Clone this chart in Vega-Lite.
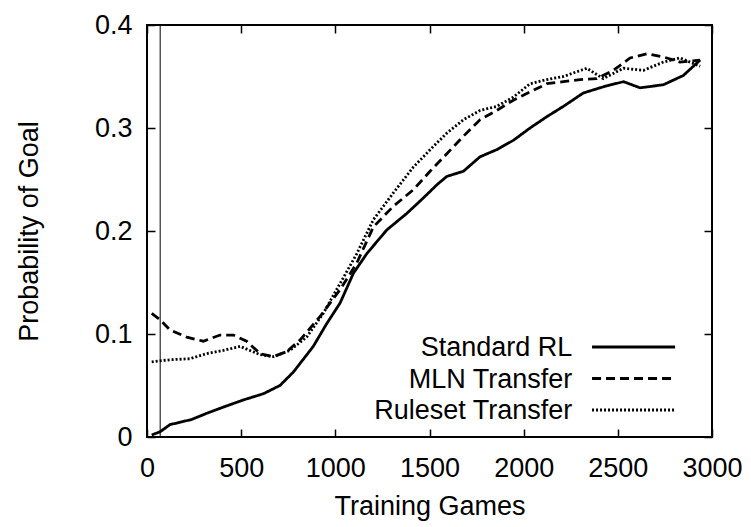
{
  "$schema": "https://vega.github.io/schema/vega-lite/v6.json",
  "autosize": "none",
  "width": 565,
  "height": 412,
  "padding": {"left": 147, "top": 25, "right": 39, "bottom": 90},
  "background": "white",
  "config": {
    "font": "Liberation Sans",
    "view": {"stroke": "black", "strokeWidth": 2},
    "axis": {"grid": false, "domain": false, "ticks": true, "tickColor": "black", "tickWidth": 1.5, "tickSize": 8, "offset": -8,
             "labelFlush": false, "labelOverlap": false, "labelBound": false,
             "labelFont": "Liberation Sans", "labelFontSize": 27, "labelColor": "black",
             "titleFont": "Liberation Sans", "titleFontSize": 27, "titleFontWeight": "normal", "titleColor": "black"}
  },
  "datasets": {
    "curves": [
      {"series": "Standard RL", "games": 25, "p": 0.002},
      {"series": "Standard RL", "games": 69, "p": 0.005},
      {"series": "Standard RL", "games": 122, "p": 0.012},
      {"series": "Standard RL", "games": 237, "p": 0.017},
      {"series": "Standard RL", "games": 317, "p": 0.023},
      {"series": "Standard RL", "games": 405, "p": 0.029},
      {"series": "Standard RL", "games": 512, "p": 0.036},
      {"series": "Standard RL", "games": 618, "p": 0.042},
      {"series": "Standard RL", "games": 706, "p": 0.050},
      {"series": "Standard RL", "games": 777, "p": 0.063},
      {"series": "Standard RL", "games": 883, "p": 0.088},
      {"series": "Standard RL", "games": 954, "p": 0.110},
      {"series": "Standard RL", "games": 1025, "p": 0.130},
      {"series": "Standard RL", "games": 1096, "p": 0.159},
      {"series": "Standard RL", "games": 1167, "p": 0.178},
      {"series": "Standard RL", "games": 1273, "p": 0.201},
      {"series": "Standard RL", "games": 1379, "p": 0.217},
      {"series": "Standard RL", "games": 1467, "p": 0.232},
      {"series": "Standard RL", "games": 1540, "p": 0.245},
      {"series": "Standard RL", "games": 1592, "p": 0.253},
      {"series": "Standard RL", "games": 1680, "p": 0.258},
      {"series": "Standard RL", "games": 1768, "p": 0.272},
      {"series": "Standard RL", "games": 1857, "p": 0.279},
      {"series": "Standard RL", "games": 1945, "p": 0.288},
      {"series": "Standard RL", "games": 2034, "p": 0.300},
      {"series": "Standard RL", "games": 2123, "p": 0.311},
      {"series": "Standard RL", "games": 2211, "p": 0.321},
      {"series": "Standard RL", "games": 2317, "p": 0.334},
      {"series": "Standard RL", "games": 2423, "p": 0.340},
      {"series": "Standard RL", "games": 2530, "p": 0.345},
      {"series": "Standard RL", "games": 2618, "p": 0.339},
      {"series": "Standard RL", "games": 2742, "p": 0.342},
      {"series": "Standard RL", "games": 2848, "p": 0.351},
      {"series": "Standard RL", "games": 2937, "p": 0.366},
      {"series": "MLN Transfer", "games": 25, "p": 0.120},
      {"series": "MLN Transfer", "games": 69, "p": 0.114},
      {"series": "MLN Transfer", "games": 122, "p": 0.104},
      {"series": "MLN Transfer", "games": 211, "p": 0.097},
      {"series": "MLN Transfer", "games": 299, "p": 0.093},
      {"series": "MLN Transfer", "games": 388, "p": 0.099},
      {"series": "MLN Transfer", "games": 458, "p": 0.099},
      {"series": "MLN Transfer", "games": 529, "p": 0.093},
      {"series": "MLN Transfer", "games": 600, "p": 0.081},
      {"series": "MLN Transfer", "games": 671, "p": 0.078},
      {"series": "MLN Transfer", "games": 742, "p": 0.083},
      {"series": "MLN Transfer", "games": 812, "p": 0.094},
      {"series": "MLN Transfer", "games": 919, "p": 0.117},
      {"series": "MLN Transfer", "games": 1025, "p": 0.143},
      {"series": "MLN Transfer", "games": 1114, "p": 0.169},
      {"series": "MLN Transfer", "games": 1202, "p": 0.204},
      {"series": "MLN Transfer", "games": 1308, "p": 0.224},
      {"series": "MLN Transfer", "games": 1414, "p": 0.240},
      {"series": "MLN Transfer", "games": 1503, "p": 0.258},
      {"series": "MLN Transfer", "games": 1592, "p": 0.275},
      {"series": "MLN Transfer", "games": 1680, "p": 0.292},
      {"series": "MLN Transfer", "games": 1768, "p": 0.308},
      {"series": "MLN Transfer", "games": 1857, "p": 0.317},
      {"series": "MLN Transfer", "games": 1945, "p": 0.327},
      {"series": "MLN Transfer", "games": 2034, "p": 0.335},
      {"series": "MLN Transfer", "games": 2123, "p": 0.343},
      {"series": "MLN Transfer", "games": 2211, "p": 0.345},
      {"series": "MLN Transfer", "games": 2300, "p": 0.347},
      {"series": "MLN Transfer", "games": 2388, "p": 0.348},
      {"series": "MLN Transfer", "games": 2476, "p": 0.356},
      {"series": "MLN Transfer", "games": 2565, "p": 0.368},
      {"series": "MLN Transfer", "games": 2654, "p": 0.372},
      {"series": "MLN Transfer", "games": 2742, "p": 0.369},
      {"series": "MLN Transfer", "games": 2830, "p": 0.364},
      {"series": "MLN Transfer", "games": 2937, "p": 0.366},
      {"series": "Ruleset Transfer", "games": 25, "p": 0.073},
      {"series": "Ruleset Transfer", "games": 122, "p": 0.075},
      {"series": "Ruleset Transfer", "games": 228, "p": 0.076},
      {"series": "Ruleset Transfer", "games": 317, "p": 0.081},
      {"series": "Ruleset Transfer", "games": 405, "p": 0.084},
      {"series": "Ruleset Transfer", "games": 494, "p": 0.088},
      {"series": "Ruleset Transfer", "games": 547, "p": 0.084},
      {"series": "Ruleset Transfer", "games": 600, "p": 0.080},
      {"series": "Ruleset Transfer", "games": 671, "p": 0.078},
      {"series": "Ruleset Transfer", "games": 759, "p": 0.084},
      {"series": "Ruleset Transfer", "games": 848, "p": 0.097},
      {"series": "Ruleset Transfer", "games": 936, "p": 0.120},
      {"series": "Ruleset Transfer", "games": 1025, "p": 0.149},
      {"series": "Ruleset Transfer", "games": 1114, "p": 0.178},
      {"series": "Ruleset Transfer", "games": 1202, "p": 0.211},
      {"series": "Ruleset Transfer", "games": 1308, "p": 0.237},
      {"series": "Ruleset Transfer", "games": 1414, "p": 0.262},
      {"series": "Ruleset Transfer", "games": 1520, "p": 0.282},
      {"series": "Ruleset Transfer", "games": 1592, "p": 0.295},
      {"series": "Ruleset Transfer", "games": 1680, "p": 0.308},
      {"series": "Ruleset Transfer", "games": 1768, "p": 0.317},
      {"series": "Ruleset Transfer", "games": 1857, "p": 0.321},
      {"series": "Ruleset Transfer", "games": 1945, "p": 0.330},
      {"series": "Ruleset Transfer", "games": 2034, "p": 0.343},
      {"series": "Ruleset Transfer", "games": 2123, "p": 0.347},
      {"series": "Ruleset Transfer", "games": 2211, "p": 0.350},
      {"series": "Ruleset Transfer", "games": 2335, "p": 0.358},
      {"series": "Ruleset Transfer", "games": 2423, "p": 0.348},
      {"series": "Ruleset Transfer", "games": 2530, "p": 0.358},
      {"series": "Ruleset Transfer", "games": 2636, "p": 0.356},
      {"series": "Ruleset Transfer", "games": 2742, "p": 0.364},
      {"series": "Ruleset Transfer", "games": 2830, "p": 0.368},
      {"series": "Ruleset Transfer", "games": 2937, "p": 0.360}
    ],
    "legendRows": [
      {"series": "Standard RL"},
      {"series": "MLN Transfer"},
      {"series": "Ruleset Transfer"}
    ]
  },
  "layer": [
    {
      "data": {"name": "curves"},
      "mark": {"type": "line", "color": "black", "strokeWidth": 2.8, "clip": true},
      "encoding": {
        "x": {"field": "games", "type": "quantitative", "scale": {"domain": [0, 3000], "nice": false},
              "axis": {"orient": "bottom", "values": [0, 500, 1000, 1500, 2000, 2500, 3000], "format": "d", "labelPadding": 18, "title": "Training Games", "titlePadding": 12}},
        "y": {"field": "p", "type": "quantitative", "scale": {"domain": [0, 0.4], "nice": false},
              "axis": {"orient": "left", "values": [0, 0.1, 0.2, 0.3, 0.4], "labelExpr": "datum.value == 0 ? '0' : format(datum.value, '.1f')", "labelPadding": 15, "title": "Probability of Goal", "titlePadding": 51}},
        "strokeDash": {"field": "series", "type": "nominal", "scale": {"domain": ["Standard RL", "MLN Transfer", "Ruleset Transfer"], "range": [[1, 0], [9, 5], [2, 2]]}, "legend": null},
        "detail": {"field": "series"}
      }
    },
    {
      "data": {"values": [{}]},
      "mark": {"type": "rule", "color": "black", "strokeWidth": 1},
      "encoding": {
        "x": {"datum": 70, "type": "quantitative", "axis": {"orient": "top", "values": [0, 500, 1000, 1500, 2000, 2500, 3000], "labels": false, "title": null}},
        "y": {"datum": 0, "type": "quantitative", "scale": {"domain": [0, 0.4], "nice": false}, "axis": {"orient": "right", "values": [0, 0.1, 0.2, 0.3, 0.4], "labels": false, "title": null}},
        "y2": {"datum": 0.4}
      }
    },
    {
      "data": {"name": "legendRows"},
      "mark": {"type": "text", "align": "right", "baseline": "middle", "fontSize": 27, "font": "Liberation Sans", "color": "black"},
      "encoding": {
        "x": {"datum": 2258, "type": "quantitative", "axis": null},
        "y": {"field": "series", "type": "nominal", "scale": {"type": "point", "domain": ["Standard RL", "MLN Transfer", "Ruleset Transfer"], "range": [323, 386], "padding": 0}, "axis": null},
        "text": {"field": "series"}
      }
    },
    {
      "data": {"name": "legendRows"},
      "mark": {"type": "rule", "color": "black", "strokeWidth": 2.8},
      "encoding": {
        "x": {"datum": 2363, "type": "quantitative", "axis": null},
        "x2": {"datum": 2804},
        "y": {"field": "series", "type": "nominal", "scale": {"type": "point", "domain": ["Standard RL", "MLN Transfer", "Ruleset Transfer"], "range": [322, 385], "padding": 0}, "axis": null},
        "strokeDash": {"field": "series", "type": "nominal", "legend": null}
      }
    }
  ],
  "resolve": {"scale": {"y": "independent"}, "axis": {"x": "independent", "y": "independent"}}
}
